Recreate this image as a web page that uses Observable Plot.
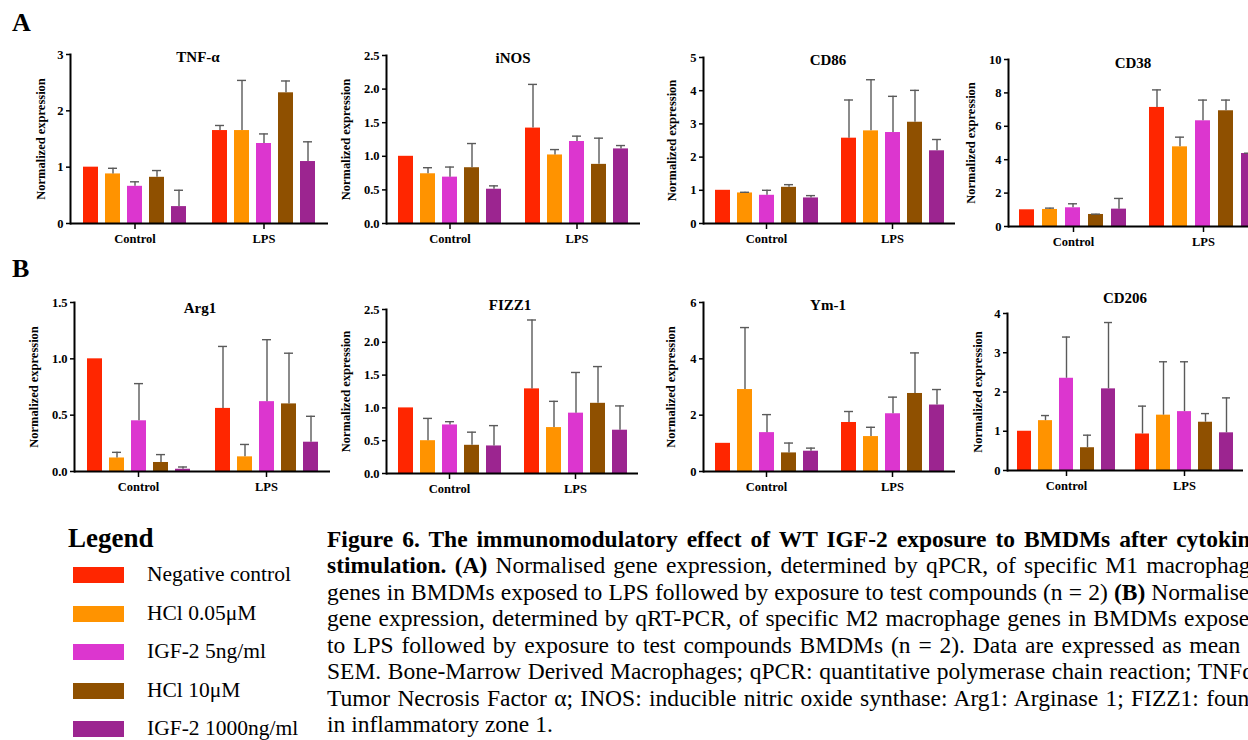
<!DOCTYPE html>
<html>
<head>
<meta charset="utf-8">
<script src="https://cdn.jsdelivr.net/npm/d3@7"></script>
<script src="https://cdn.jsdelivr.net/npm/@observablehq/plot@0.6"></script>
<style>
html, body { margin: 0; padding: 0; background: #fff; }
body { width: 1248px; height: 740px; overflow: hidden; position: relative;
  font-family: "Liberation Serif", "Times New Roman", serif; color: #000; }
.abs { position: absolute; }
.abs svg { max-width: none !important; }
.abs svg, .abs svg text { font-family: "Liberation Serif", "Times New Roman", serif !important; }
.ptitle { position: absolute; transform: translate(-50%, -50%); font-weight: bold; font-size: 15px; line-height: 1; white-space: nowrap; }
.letter { position: absolute; font-weight: bold; font-size: 26px; line-height: 1; }
.legtitle { position: absolute; left: 68px; top: 525px; font-weight: bold; font-size: 27px; line-height: 1; }
.legitem { position: absolute; left: 73px; height: 16px; display: flex; align-items: center; }
.legitem .sw { width: 51px; height: 16px; }
.legitem .lb { position: absolute; left: 74px; top: 50%; transform: translateY(-50%); font-size: 21.5px; line-height: 1; white-space: nowrap; }
.cap { position: absolute; left: 327px; width: 934px; font-size: 23.5px; line-height: 1; white-space: normal;
  text-align: justify; text-align-last: justify; }
.cap.last { text-align: left; text-align-last: left; white-space: nowrap; }
</style>
</head>
<body>
<script>
// ---------- data ----------
const groups = ["Control", "LPS"];
const series = ["Negative control", "HCl 0.05μM", "IGF-2 5ng/ml", "HCl 10μM", "IGF-2 1000ng/ml"];
const colors = ["#ff2600", "#ff9300", "#dc36cf", "#8f5000", "#9c2590"];
const genes = ["TNF-α", "iNOS", "CD86", "CD38", "Arg1", "FIZZ1", "Ym-1", "CD206"];
const yLabel = "Normalized expression";

// means: Control (5 series) then LPS (5 series); sems same order
const tnfMean  = [1.00, 0.88, 0.66, 0.82, 0.30, 1.65, 1.65, 1.42, 2.32, 1.10];
const tnfSem   = [0.00, 0.10, 0.08, 0.12, 0.29, 0.09, 0.89, 0.17, 0.21, 0.35];
const inosMean = [1.00, 0.74, 0.69, 0.83, 0.51, 1.42, 1.02, 1.22, 0.88, 1.11];
const inosSem  = [0.00, 0.09, 0.15, 0.36, 0.05, 0.65, 0.08, 0.08, 0.39, 0.05];
const cd86Mean = [1.00, 0.92, 0.85, 1.09, 0.77, 2.57, 2.79, 2.74, 3.05, 2.19];
const cd86Sem  = [0.00, 0.02, 0.15, 0.08, 0.07, 1.15, 1.54, 1.09, 0.96, 0.34];
const cd38Mean = [1.00, 1.02, 1.12, 0.72, 1.04, 7.13, 4.77, 6.33, 6.93, 4.37];
const cd38Sem  = [0.00, 0.08, 0.24, 0.02, 0.64, 1.05, 0.58, 1.24, 0.64, 0.02];
const arg1Mean = [1.00, 0.12, 0.45, 0.08, 0.02, 0.56, 0.13, 0.62, 0.60, 0.26];
const arg1Sem  = [0.00, 0.05, 0.33, 0.07, 0.02, 0.55, 0.11, 0.55, 0.45, 0.23];
const fizzMean = [1.00, 0.50, 0.74, 0.43, 0.42, 1.29, 0.70, 0.92, 1.07, 0.66];
const fizzSem  = [0.00, 0.34, 0.05, 0.20, 0.31, 1.05, 0.40, 0.62, 0.56, 0.37];
const ym1Mean  = [1.00, 2.91, 1.38, 0.66, 0.72, 1.74, 1.24, 2.05, 2.77, 2.36];
const ym1Sem   = [0.00, 2.20, 0.64, 0.35, 0.11, 0.39, 0.33, 0.59, 1.44, 0.55];
const cd206Mean= [1.00, 1.27, 2.35, 0.58, 2.08, 0.93, 1.41, 1.50, 1.23, 0.96];
const cd206Sem = [0.00, 0.13, 1.05, 0.32, 1.69, 0.71, 1.36, 1.27, 0.22, 0.89];

const tnfTicks  = [0, 1, 2, 3];
const inosTicks = [0, 0.5, 1.0, 1.5, 2.0, 2.5];
const cd86Ticks = [0, 1, 2, 3, 4, 5];
const cd38Ticks = [0, 2, 4, 6, 8, 10];
const arg1Ticks = [0, 0.5, 1.0, 1.5];
const fizzTicks = [0, 0.5, 1.0, 1.5, 2.0, 2.5];
const ym1Ticks  = [0, 2, 4, 6];
const cd206Ticks= [0, 1, 2, 3, 4];

const panelLetters = ["A", "B"];
const legendTitle = "Legend";
const captionLines = [
  [["b", "Figure 6. The immunomodulatory effect of WT IGF-2 exposure to BMDMs after cytokine"]],
  [["b", "stimulation. (A)"], ["r", " Normalised gene expression, determined by qPCR, of specific M1 macrophage"]],
  [["r", "genes in BMDMs exposed to LPS followed by exposure to test compounds (n = 2) "], ["b", "(B)"], ["r", " Normalised"]],
  [["r", "gene expression, determined by qRT-PCR, of specific M2 macrophage genes in BMDMs exposed"]],
  [["r", "to LPS followed by exposure to test compounds BMDMs (n = 2). Data are expressed as mean ±"]],
  [["r", "SEM. Bone-Marrow Derived Macrophages; qPCR: quantitative polymerase chain reaction; TNFα:"]],
  [["r", "Tumor Necrosis Factor α; INOS: inducible nitric oxide synthase: Arg1: Arginase 1; FIZZ1: found"]],
  [["r", "in inflammatory zone 1."]]
];

// ---------- layout (pixel geometry only) ----------
const panels = [
  {mean: tnfMean,  sem: tnfSem,  ticks: tnfTicks,  ax: 70,   top: 54,  y0: 223, end: 328,  tx: 198,  ty: 57,  lo: 34, fmt: "d"},
  {mean: inosMean, sem: inosSem, ticks: inosTicks, ax: 386,  top: 55,  y0: 223, end: 640,  tx: 513,  ty: 58,  lo: 45, fmt: ".1f"},
  {mean: cd86Mean, sem: cd86Sem, ticks: cd86Ticks, ax: 703,  top: 57,  y0: 223, end: 955,  tx: 828,  ty: 60,  lo: 36, fmt: "d"},
  {mean: cd38Mean, sem: cd38Sem, ticks: cd38Ticks, ax: 1008, top: 59,  y0: 226, end: 1268, tx: 1133, ty: 63,  lo: 42, fmt: "d"},
  {mean: arg1Mean, sem: arg1Sem, ticks: arg1Ticks, ax: 73,   top: 302, y0: 471, end: 330,  tx: 200,  ty: 308, lo: 45, fmt: ".1f"},
  {mean: fizzMean, sem: fizzSem, ticks: fizzTicks, ax: 386,  top: 309, y0: 473, end: 638,  tx: 510,  ty: 305, lo: 45, fmt: ".1f"},
  {mean: ym1Mean,  sem: ym1Sem,  ticks: ym1Ticks,  ax: 703,  top: 302, y0: 471, end: 955,  tx: 828,  ty: 305, lo: 37, fmt: "d"},
  {mean: cd206Mean,sem: cd206Sem,ticks: cd206Ticks,ax: 1007, top: 313, y0: 470, end: 1243, tx: 1125, ty: 298, lo: 34, fmt: "d"}
];

const ML = 56, MR = 4, MT = 8, MB = 34;
const font = '"Liberation Serif", "Times New Roman", serif';
const errColor = "#5a5a5a";

panels.forEach((p, k) => {
  const rows = [];
  groups.forEach((g, gi) => series.forEach((s, si) => {
    const i = gi * series.length + si;
    rows.push({group: g, series: s, mean: p.mean[i], sem: p.sem[i], top: p.mean[i] + p.sem[i]});
  }));
  const errRows = rows.filter(d => d.sem > 0);
  const width = ML + (p.end - p.ax) + MR;
  const height = MT + (p.y0 - p.top) + MB;
  const chart = Plot.plot({
    width, height,
    marginLeft: ML, marginRight: MR, marginTop: MT, marginBottom: MB,
    style: {fontFamily: font, fontSize: "12px", fontWeight: "bold", color: "#000", background: "transparent", overflow: "visible", maxWidth: "none"},
    fx: {domain: groups, padding: 0},
    x: {domain: series, paddingInner: 0.33, paddingOuter: 0.47, axis: null},
    y: {domain: [0, d3.max(p.ticks)]},
    color: {domain: series, range: colors},
    marks: [
      Plot.barY(rows, {fx: "group", x: "series", y: "mean", fill: "series"}),
      Plot.ruleX(errRows, {fx: "group", x: "series", y1: "mean", y2: "top", stroke: errColor, strokeWidth: 1.4}),
      Plot.tickY(errRows, {fx: "group", x: "series", y: "top", stroke: errColor, strokeWidth: 1.4, insetLeft: 3, insetRight: 3}),
      Plot.ruleY([0], {stroke: "#000", strokeWidth: 2}),
      Plot.frame({anchor: "left", facetAnchor: "left", stroke: "#000", strokeWidth: 2}),
      Plot.axisY({ticks: p.ticks, tickFormat: d3.format(p.fmt), tickSize: 4, tickPadding: 3, strokeWidth: 1.5,
        fontFamily: font, fontSize: 12.5, fontWeight: "bold", label: yLabel, labelAnchor: "center", labelOffset: p.lo, labelArrow: "none"}),
      Plot.axisFx({anchor: "bottom", tickSize: 6, tickPadding: 5, strokeWidth: 1.5, fontFamily: font, fontSize: 12.5, fontWeight: "bold", label: null})
    ]
  });
  const wrap = document.createElement("div");
  wrap.className = "abs";
  wrap.style.left = (p.ax - ML) + "px";
  wrap.style.top = (p.top - MT) + "px";
  wrap.style.width = width + "px";
  wrap.style.height = height + "px";
  wrap.appendChild(chart);
  document.body.appendChild(wrap);

  const t = document.createElement("div");
  t.className = "ptitle";
  t.style.left = p.tx + "px";
  t.style.top = p.ty + "px";
  t.textContent = genes[k];
  document.body.appendChild(t);
});

// panel letters
[[12, 10], [12, 256]].forEach(([x, y], i) => {
  const d = document.createElement("div");
  d.className = "letter";
  d.style.left = x + "px"; d.style.top = y + "px";
  d.textContent = panelLetters[i];
  document.body.appendChild(d);
});

// legend
const lt = document.createElement("div");
lt.className = "legtitle"; lt.textContent = legendTitle;
document.body.appendChild(lt);
series.forEach((s, i) => {
  const row = document.createElement("div");
  row.className = "legitem";
  row.style.top = (567 + i * 38.5) + "px";
  const sw = document.createElement("div");
  sw.className = "sw"; sw.style.background = colors[i];
  const lb = document.createElement("div");
  lb.className = "lb"; lb.textContent = s;
  row.appendChild(sw); row.appendChild(lb);
  document.body.appendChild(row);
});

// caption
captionLines.forEach((parts, i) => {
  const d = document.createElement("div");
  d.className = i === captionLines.length - 1 ? "cap last" : "cap";
  d.style.top = (528 + i * 26.45) + "px";
  parts.forEach(([w, txt]) => {
    const sp = document.createElement("span");
    if (w === "b") sp.style.fontWeight = "bold";
    sp.textContent = txt;
    d.appendChild(sp);
  });
  document.body.appendChild(d);
});
</script>
</body>
</html>
